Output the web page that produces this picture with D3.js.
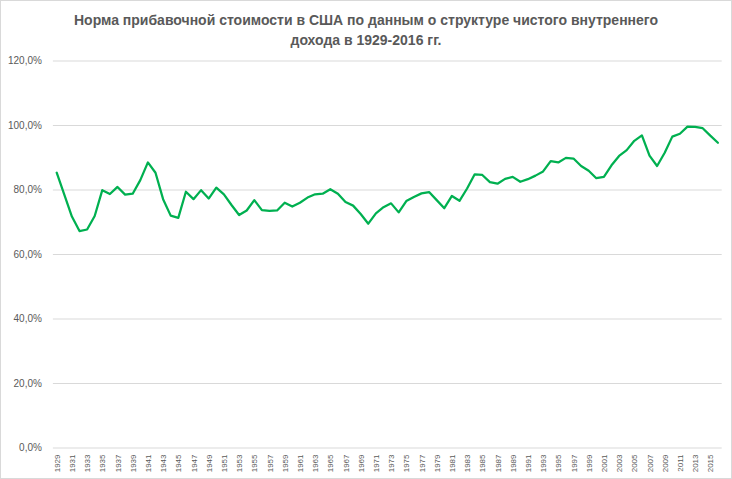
<!DOCTYPE html>
<html>
<head>
<meta charset="utf-8">
<script src="https://cdn.jsdelivr.net/npm/d3@7"></script>
<style>
  body { margin: 0; background: #fff; }
  svg { display: block; font-family: "Liberation Sans", Arial, sans-serif; }
</style>
</head>
<body>
<script>
// Norma pribavochnoy stoimosti, 1929-2016, in percent
const years = d3.range(1929, 2017);
const rates = [
  85.2, 78.4, 71.6, 67.1, 67.6, 71.8, 79.8, 78.6, 80.8, 78.4,
  78.7, 82.9, 88.4, 85.2, 77.0, 71.9, 71.2, 79.3, 77.0, 79.8,
  77.2, 80.6, 78.5, 75.2, 72.1, 73.5, 76.7, 73.6, 73.4, 73.5,
  75.9, 74.7, 75.9, 77.5, 78.5, 78.7, 80.1, 78.7, 76.1, 75.0,
  72.4, 69.4, 72.6, 74.5, 75.7, 72.9, 76.4, 77.7, 78.8, 79.2,
  76.7, 74.2, 78.0, 76.5, 80.3, 84.7, 84.5, 82.3, 81.8, 83.3,
  83.9, 82.4, 83.2, 84.3, 85.6, 88.8, 88.4, 89.8, 89.6, 87.3,
  85.8, 83.5, 83.9, 87.5, 90.4, 92.2, 95.1, 96.8, 90.5, 87.3,
  91.4, 96.4, 97.3, 99.5, 99.4, 99.0, 96.7, 94.5
];
const yTicks = [0, 20, 40, 60, 80, 100, 120];
const xTickYears = years.filter((y, i) => i % 2 === 0);
const titleLines = [
  "Норма прибавочной  стоимости в США по данным о структуре чистого внутреннего",
  "дохода в 1929-2016 гг."
];

const W = 732, H = 479;
const margin = { top: 60.5, right: 10.3, bottom: 31.5, left: 52.9 };

const svg = d3.select("body").append("svg")
  .attr("width", W).attr("height", H);

// outer chart frame
svg.append("rect")
  .attr("x", 0.5).attr("y", 0.5)
  .attr("width", W - 1).attr("height", H - 1)
  .attr("fill", "#fff").attr("stroke", "#d9d9d9");

const x = d3.scalePoint()
  .domain(years)
  .range([margin.left, W - margin.right])
  .padding(0.5);

const y = d3.scaleLinear()
  .domain([0, 120])
  .range([H - margin.bottom, margin.top]);

const ruLocale = d3.formatLocale({
  decimal: ",", thousands: " ", grouping: [3], currency: ["", ""]
});
const pct = ruLocale.format(".1f");

// gridlines + y labels
const yAxis = d3.axisLeft(y)
  .tickValues(yTicks)
  .tickSize(-(W - margin.right - margin.left))
  .tickPadding(11)
  .tickFormat(d => pct(d) + "%");

svg.append("g")
  .attr("transform", `translate(${margin.left},0)`)
  .call(yAxis)
  .call(g => g.select(".domain").remove())
  .call(g => g.selectAll("line").attr("stroke", "#d9d9d9"))
  .call(g => g.selectAll("text")
    .attr("fill", "#595959")
    .style("font-size", "10px"));

// x labels, rotated
const xAxis = d3.axisBottom(x)
  .tickValues(xTickYears)
  .tickSize(0);

svg.append("g")
  .attr("transform", `translate(0,${y(0)})`)
  .call(xAxis)
  .call(g => g.select(".domain").remove())
  .call(g => g.selectAll("text")
    .attr("fill", "#595959")
    .style("font-size", "8px")
    .attr("text-anchor", "end")
    .attr("transform", "rotate(-90)")
    .attr("x", -7)
    .attr("y", 0)
    .attr("dy", "0.32em"));

// the series
const line = d3.line()
  .x((d, i) => x(years[i]))
  .y(d => y(d));

svg.append("path")
  .datum(rates)
  .attr("fill", "none")
  .attr("stroke", "#00b050")
  .attr("stroke-width", 2.25)
  .attr("stroke-linejoin", "round")
  .attr("stroke-linecap", "round")
  .attr("d", line);

// title
svg.append("g")
  .selectAll("text")
  .data(titleLines)
  .join("text")
  .attr("x", W / 2)
  .attr("y", (d, i) => 25 + i * 20)
  .attr("text-anchor", "middle")
  .attr("fill", "#595959")
  .style("font-size", "14px")
  .style("font-weight", "bold")
  .style("font-family", "'Liberation Sans Narrow', 'Liberation Sans', sans-serif")
  .text(d => d);
</script>
</body>
</html>
